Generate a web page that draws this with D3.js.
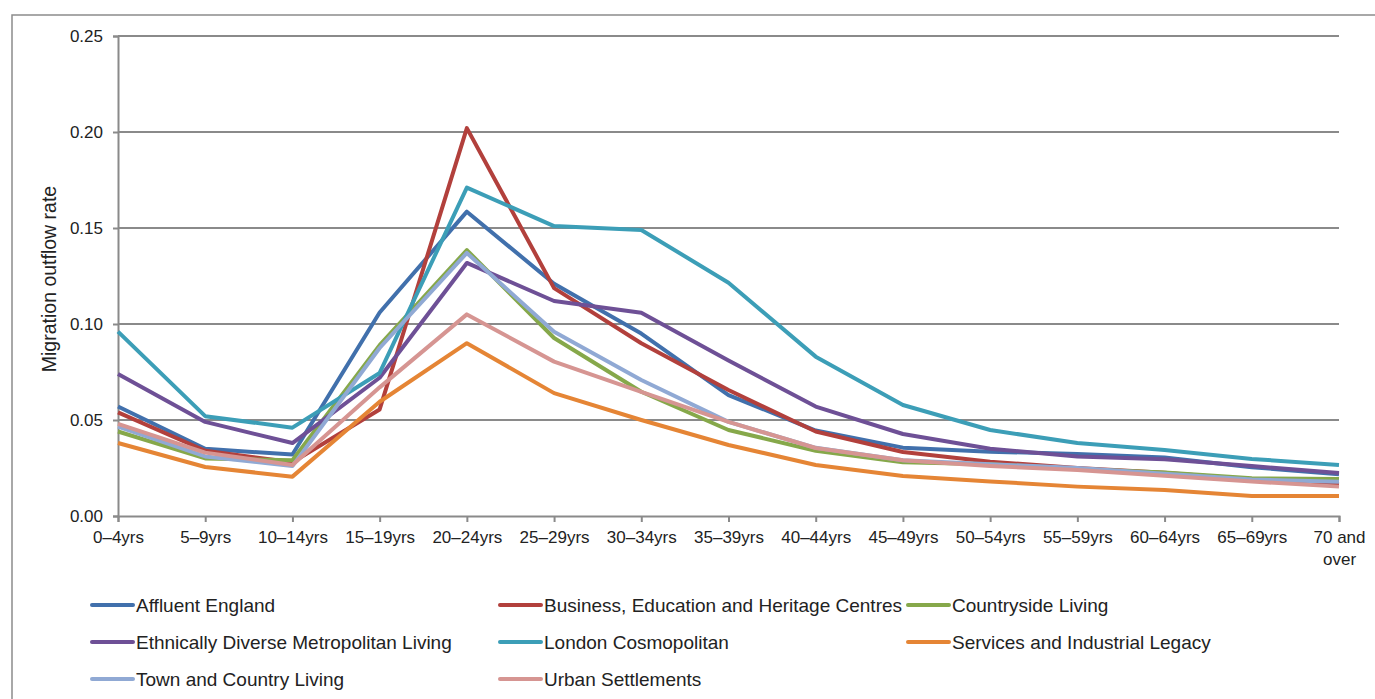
<!DOCTYPE html>
<html>
<head>
<meta charset="utf-8">
<script src="https://cdn.jsdelivr.net/npm/d3@7"></script>
<style>
  body { margin: 0; background: #fff; }
  text { font-family: "Liberation Sans", Arial, sans-serif; fill: #222; }
</style>
</head>
<body>
<div id="chart"></div>
<script>
// ----- Data -------
const ageBands = ["0–4yrs", "5–9yrs", "10–14yrs", "15–19yrs", "20–24yrs", "25–29yrs", "30–34yrs",
  "35–39yrs", "40–44yrs", "45–49yrs", "50–54yrs", "55–59yrs", "60–64yrs", "65–69yrs", "70 and over"];

const affluentEngland = [0.057, 0.035, 0.032, 0.106, 0.1585, 0.121, 0.095, 0.063, 0.0445, 0.0356, 0.0335, 0.0323, 0.0305, 0.0254, 0.0218];
const businessEducation = [0.054, 0.034, 0.028, 0.0555, 0.202, 0.1187, 0.090, 0.0656, 0.044, 0.0333, 0.0283, 0.025, 0.0225, 0.019, 0.0165];
const countrysideLiving = [0.044, 0.030, 0.029, 0.089, 0.1385, 0.0927, 0.0647, 0.0448, 0.034, 0.028, 0.027, 0.0245, 0.0226, 0.0196, 0.0193];
const ethnicallyDiverse = [0.074, 0.049, 0.038, 0.072, 0.1318, 0.112, 0.1059, 0.081, 0.057, 0.0427, 0.035, 0.031, 0.0295, 0.026, 0.0224];
const londonCosmopolitan = [0.096, 0.052, 0.046, 0.0745, 0.171, 0.151, 0.149, 0.1215, 0.083, 0.0578, 0.0448, 0.038, 0.0344, 0.0297, 0.0266];
const servicesIndustrial = [0.038, 0.0255, 0.0205, 0.0595, 0.090, 0.064, 0.050, 0.037, 0.0266, 0.0208, 0.018, 0.0153, 0.0135, 0.0104, 0.0104];
const townCountry = [0.0465, 0.031, 0.026, 0.0875, 0.137, 0.096, 0.0708, 0.049, 0.0355, 0.029, 0.027, 0.025, 0.022, 0.019, 0.0178];
const urbanSettlements = [0.048, 0.033, 0.0266, 0.067, 0.105, 0.0804, 0.0647, 0.049, 0.0354, 0.029, 0.026, 0.024, 0.021, 0.018, 0.0153];

const seriesNames = ["Affluent England", "Business, Education and Heritage Centres", "Countryside Living",
  "Ethnically Diverse Metropolitan Living", "London Cosmopolitan", "Services and Industrial Legacy",
  "Town and Country Living", "Urban Settlements"];
const seriesValues = [affluentEngland, businessEducation, countrysideLiving, ethnicallyDiverse,
  londonCosmopolitan, servicesIndustrial, townCountry, urbanSettlements];
const seriesColors = ["#4170ac", "#b2403c", "#86a84a", "#6e5096", "#3c9eb7", "#e58535", "#90a9d4", "#d69592"];
const yTicks = [0, 0.05, 0.10, 0.15, 0.20, 0.25];

// ----- SVG -------
const svg = d3.select("#chart").append("svg").attr("width", 1375).attr("height", 699);

// outer frame
svg.append('rect')
  .attr('x', 12)
  .attr('y', 15)
  .attr('width', 1380)
  .attr('height', 700)
  .attr('fill', 'none')
  .attr('stroke', '#8c8c8c')
  .attr('stroke-width', 1.5);

const x = d3.scalePoint().domain(ageBands).range([118, 1339]);
const y = d3.scaleLinear().domain([0, 0.25]).range([516, 36]);

// gridlines
svg.append('g')
  .selectAll('line')
  .data(yTicks.slice(1))
  .join('line')
  .attr('x1', 118)
  .attr('x2', 1339)
  .attr('y1', d => y(d))
  .attr('y2', d => y(d))
  .attr('stroke', '#8a8a8a')
  .attr('stroke-width', 2);

// y axis
const yAxis = svg.append('g')
  .attr('transform', 'translate(118,0)')
  .call(d3.axisLeft(y).tickValues(yTicks).tickFormat(d3.format('.2f')).tickSize(5).tickPadding(10));
yAxis.select('.domain').attr('stroke', '#8a8a8a').attr('stroke-width', 2);
yAxis.selectAll('.tick line').attr('stroke', '#8a8a8a').attr('stroke-width', 2);
yAxis.selectAll('.tick text')
  .style('font-family', '"Liberation Sans", Arial, sans-serif')
  .style('font-size', '17px')
  .attr('fill', '#222');

// x axis
const xAxis = svg.append('g')
  .attr('transform', 'translate(0,516)')
  .call(d3.axisBottom(x).tickSize(6).tickPadding(9));
xAxis.select('.domain').attr('stroke', '#8a8a8a').attr('stroke-width', 2);
xAxis.selectAll('.tick line').attr('stroke', '#8a8a8a').attr('stroke-width', 2);
xAxis.selectAll('.tick text')
  .style('font-family', '"Liberation Sans", Arial, sans-serif')
  .style('font-size', '17px')
  .attr('fill', '#222')
  .each(function(d) {
    if (d === "70 and over") {
      const t = d3.select(this).text(null);
      t.append('tspan').attr('x', 0).attr('dy', '0.71em').text('70 and');
      t.append('tspan').attr('x', 0).attr('dy', '1.3em').text('over');
      t.attr('dy', null);
    }
  });

// y axis title
svg.append('text')
  .attr('transform', 'translate(56,279) rotate(-90)')
  .attr('text-anchor', 'middle')
  .style('font-size', '19.5px')
  .text('Migration outflow rate');

// ----- Lines -------
const line = d3.line()
  .x((d, i) => x(ageBands[i]))
  .y(d => y(d));

svg.append('g')
  .selectAll('path')
  .data(seriesValues)
  .join('path')
  .attr('d', line)
  .attr('fill', 'none')
  .attr('stroke', (d, i) => seriesColors[i])
  .attr('stroke-width', 4)
  .attr('stroke-linejoin', 'round');

// ----- Legend -------
const legendCols = [92, 500, 908];
const legendRows = [605, 642, 679];
const legend = svg.append('g')
  .selectAll('g')
  .data(seriesNames)
  .join('g')
  .attr('transform', (d, i) => `translate(${legendCols[i % 3]},${legendRows[Math.floor(i / 3)]})`);

legend.append('line')
  .attr('x1', 0)
  .attr('x2', 41)
  .attr('stroke', (d, i) => seriesColors[i])
  .attr('stroke-width', 4)
  .attr('stroke-linecap', 'round');

legend.append('text')
  .attr('x', 44)
  .attr('dy', '0.35em')
  .style('font-size', '19px')
  .text(d => d);
</script>
</body>
</html>
